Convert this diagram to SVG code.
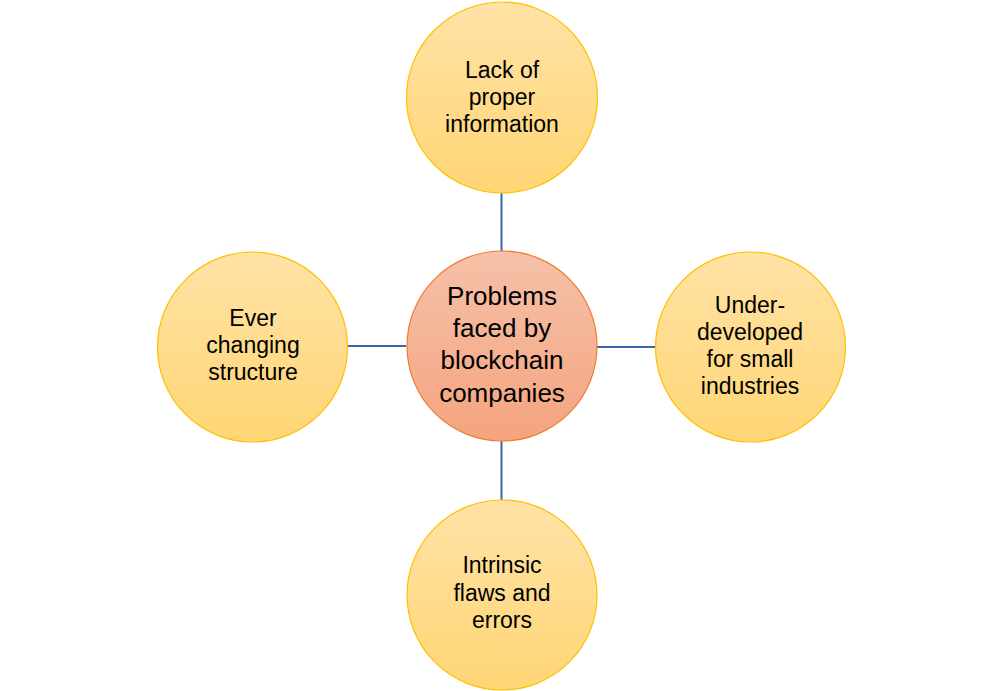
<svg xmlns="http://www.w3.org/2000/svg" width="1002" height="691" viewBox="0 0 1002 691">
<style>
.outer{fill:url(#gy);stroke:#FFC000;stroke-width:1.2}
.center{fill:url(#go);stroke:#ED7D31;stroke-width:1.2}
.t{font-family:"Liberation Sans",Arial,sans-serif;font-size:23px;fill:#000;text-anchor:middle}
.tc{font-family:"Liberation Sans",Arial,sans-serif;font-size:26px;fill:#000;text-anchor:middle}
.c{stroke:#3D63AE;stroke-width:2;fill:none}
</style>
<defs>
<linearGradient id="gy" x1="0" y1="0" x2="0" y2="1">
<stop offset="0" stop-color="#FFE2A6"/>
<stop offset="1" stop-color="#FFD675"/>
</linearGradient>
<linearGradient id="go" x1="0" y1="0" x2="0" y2="1">
<stop offset="0" stop-color="#F6C1A9"/>
<stop offset="1" stop-color="#F4A47F"/>
</linearGradient>
</defs>
<rect width="1002" height="691" fill="#fff"/>
<g id="connectors">
<line class="c" x1="501.5" y1="193" x2="501.5" y2="251"/>
<line class="c" x1="501.5" y1="441" x2="501.5" y2="500"/>
<line class="c" x1="348" y1="346" x2="406" y2="346"/>
<line class="c" x1="597" y1="347" x2="655" y2="347"/>
</g>
<g id="center">
<circle class="center" cx="502" cy="346" r="95"/>
<text class="tc" x="502" y="305">Problems</text>
<text class="tc" x="502" y="337">faced by</text>
<text class="tc" x="502" y="369">blockchain</text>
<text class="tc" x="502" y="402">companies</text>
</g>
<g id="top">
<circle class="outer" cx="502" cy="97.5" r="95.5"/>
<text class="t" x="502" y="78">Lack of</text>
<text class="t" x="502" y="105">proper</text>
<text class="t" x="502" y="132">information</text>
</g>
<g id="bottom">
<circle class="outer" cx="502" cy="595" r="95"/>
<text class="t" x="502" y="573">Intrinsic</text>
<text class="t" x="502" y="601">flaws and</text>
<text class="t" x="502" y="628">errors</text>
</g>
<g id="left">
<circle class="outer" cx="252.5" cy="347" r="95"/>
<text class="t" x="253" y="326">Ever</text>
<text class="t" x="253" y="353">changing</text>
<text class="t" x="253" y="380">structure</text>
</g>
<g id="right">
<circle class="outer" cx="750.5" cy="347" r="95"/>
<text class="t" x="750" y="313">Under-</text>
<text class="t" x="750" y="340">developed</text>
<text class="t" x="750" y="367">for small</text>
<text class="t" x="750" y="394">industries</text>
</g>
</svg>
